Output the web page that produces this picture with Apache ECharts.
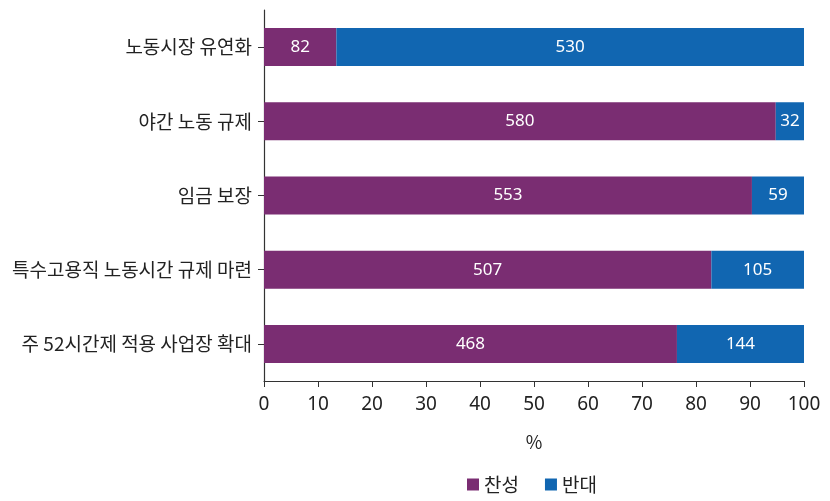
<!DOCTYPE html>
<html><head><meta charset="utf-8">
<script src="https://cdn.jsdelivr.net/npm/echarts@6/dist/echarts.min.js"></script>
<style>html,body{margin:0;padding:0;background:#fff}#c{width:830px;height:501px}</style>
</head><body><div id="c"></div>
<script>
var categories = ['노동시장 유연화','야간 노동 규제','임금 보장','특수고용직 노동시간 규제 마련','주 52시간제 적용 사업장 확대'];
var agree = [82, 580, 553, 507, 468];
var oppose = [530, 32, 59, 105, 144];
var xTicks = [0,10,20,30,40,50,60,70,80,90,100];
var seriesNames = ['찬성','반대'];

function pct(a, i){ return a[i] / (agree[i] + oppose[i]) * 100; }
var agreePct = agree.map(function(v,i){ return {value: pct(agree,i), raw: v}; });
var opposePct = oppose.map(function(v,i){ return {value: pct(oppose,i), raw: v}; });

var font = 'Noto Sans CJK KR';
var chart = echarts.init(document.getElementById('c'));
chart.setOption({
  animation: false,
  textStyle: {fontFamily: font},
  grid: {left: 264, right: 26, top: 10, bottom: 120, containLabel: false},
  legend: {
    data: seriesNames, bottom: 2, left: 462, itemWidth: 12, itemHeight: 12, itemGap: 26,
    icon: 'rect',
    textStyle: {fontSize: 19, color: '#222', fontFamily: font}
  },
  xAxis: {
    type: 'value', min: 0, max: 100, interval: 10,
    name: '%', nameLocation: 'middle', nameGap: 52,
    nameTextStyle: {fontSize: 18, color: '#222', fontFamily: font},
    axisLine: {show: true, lineStyle: {color: '#333', width: 1.2}},
    axisTick: {show: true, length: 6, lineStyle: {color: '#333'}},
    axisLabel: {fontSize: 19, color: '#222', margin: 14, fontFamily: 'Noto Sans',
      formatter: function(v){ return xTicks.indexOf(v) >= 0 ? String(v) : ''; }},
    splitLine: {show: false}
  },
  yAxis: {
    type: 'category', data: categories, inverse: true,
    axisLine: {show: true, lineStyle: {color: '#333', width: 1.2}},
    axisTick: {show: true, alignWithLabel: true, length: 6, lineStyle: {color: '#333'}},
    axisLabel: {fontSize: 19, color: '#222', margin: 12, fontFamily: font}
  },
  series: [
    {name: seriesNames[0], type: 'bar', stack: 't', data: agreePct, barWidth: 38,
     itemStyle: {color: '#7A2D72'},
     label: {show: true, position: 'inside', color: '#fff', fontSize: 17, fontFamily: 'Noto Sans',
       formatter: function(p){ return p.data.raw; }}},
    {name: seriesNames[1], type: 'bar', stack: 't', data: opposePct, barWidth: 38,
     itemStyle: {color: '#1166B1'},
     label: {show: true, position: 'inside', color: '#fff', fontSize: 17, fontFamily: 'Noto Sans',
       formatter: function(p){ return p.data.raw; }}}
  ]
});
</script></body></html>
